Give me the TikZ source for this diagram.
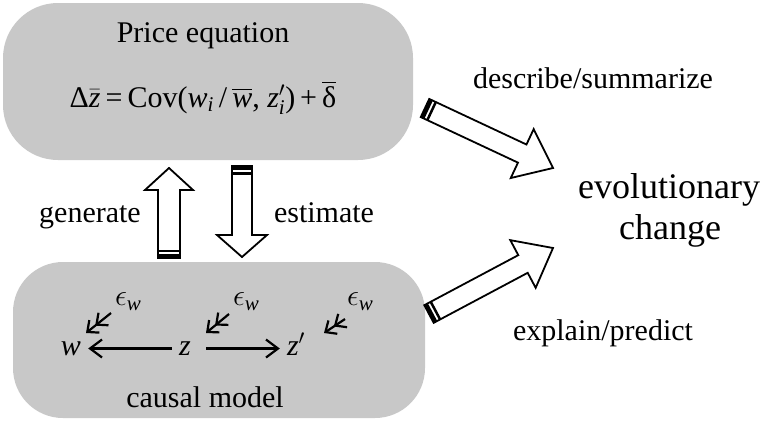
\RequirePackage{fix-cm}
\documentclass[tikz,border=0pt]{standalone}
\usepackage{amsmath}
\usepackage{fontspec}
\setmainfont{Liberation Serif}
\usetikzlibrary{arrows.meta,calc}
\definecolor{boxgray}{RGB}{200,200,200}
\newcommand\blockarrow[5]{%
  \path let \p1=($(#2)-(#1)$) in \pgfextra{\pgfmathsetmacro\tmpang{atan2(\y1,\x1)}\pgfmathsetmacro\tmplen{veclen(\x1,\y1)}\xdef\bAng{\tmpang}\xdef\bLen{\tmplen}};
  \begin{scope}[shift={(#1)},rotate=\bAng]
    \pgfmathsetmacro\bBase{\bLen-#5}
    \filldraw[fill=white,draw=black,line width=1.8pt,line join=miter]
      (0,-#3) -- (\bBase,-#3) -- (\bBase,-#4) -- (\bLen,0) -- (\bBase,#4) -- (\bBase,#3) -- (0,#3) -- cycle;
    \fill (0,-#3) rectangle (4,#3);
    \fill (6,-#3) rectangle (8.5,#3);
  \end{scope}}
\newcommand\epsw{$\epsilon$\raisebox{-5pt}{\fontsize{21}{24}\selectfont\itshape w}}
\begin{document}
\begin{tikzpicture}[x=1pt,y=-1pt,
  box/.style={fill=boxgray,draw=none,rounded corners=55pt,inner sep=0pt},
  lbl/.style={anchor=base,inner sep=0pt,font=\fontsize{30}{36}\selectfont},
  var/.style={anchor=base,inner sep=7pt,text height=13pt,text depth=0pt,font=\fontsize{30}{36}\selectfont\itshape},
  eps/.style={anchor=base,inner sep=0pt,font=\fontsize{30}{34}\selectfont},
  cause/.style={-{Straight Barb[length=12pt,width=18pt]},line width=2.2pt},
  err/.style={-{Straight Barb[length=9pt,width=16pt]Straight Barb[length=9pt,width=16pt]},line width=2.2pt}]
\useasboundingbox (0,0) rectangle (762,424);
% boxes
\node[box,minimum width=410pt,minimum height=157pt] (price) at (208,81.5) {};
\node[box,rounded corners=50pt,minimum width=412pt,minimum height=156pt] (causal) at (219,340) {};
% top texts
\node[lbl] (ptitle) at (203,42) {Price equation};
\node[lbl] (eq) at (203,107) {Δ$\bar{\text{\itshape z}}$\,=\,Cov(\textit{w}$_{\text{\itshape i}}$\,/\,$\overline{\text{\itshape w}}$, \textit{z}$'_{\text{\itshape i}}$)\,+\,$\overline{\text{δ}}$};
% bottom texts
\node[lbl] (cm) at (205,407) {causal model};
\node[var] (w) at (71,355) {w};
\node[var] (z) at (185,355) {z};
\node[var] (zp) at (296,355) {z$'$};
\node[eps] (ep1) at (128,305) {\epsw};
\node[eps] (ep2) at (246,305) {\epsw};
\node[eps] (ep3) at (360,305) {\epsw};
\draw[cause] (z.west) -- (w.east);
\draw[cause,shorten <=8pt] (z.east) -- (z.east -| zp.west);
\coordinate (e1s) at (111,313); \coordinate (e1t) at (86,333);
\coordinate (e2s) at (229,314); \coordinate (e2t) at (206,333);
\coordinate (e3s) at (345,319); \coordinate (e3t) at (324,333);
\draw[err] (e1s) -- (e1t);
\draw[err] (e2s) -- (e2t);
\draw[err] (e3s) -- (e3t);
% middle labels
\node[lbl] (gen) at (90,222) {generate};
\node[lbl] (est) at (324,222) {estimate};
% right texts
\node[lbl] (desc) at (593,88) {describe/summarize};
\node[lbl] (expl) at (603,340) {explain/predict};
\node[lbl,font=\fontsize{36}{41}\selectfont] (evo) at (669,198) {evolutionary};
\node[lbl,font=\fontsize{36}{41}\selectfont] (chg) at (670,239) {change};
% block arrows
\coordinate (upT) at (169,258); \coordinate (upH) at (169,168);
\coordinate (dnT) at (242,166); \coordinate (dnH) at (242,257);
\coordinate (dsT) at (425,108); \coordinate (dsH) at (553,168);
\coordinate (exT) at (429,314); \coordinate (exH) at (553,248);
\blockarrow{upT}{upH}{11}{24}{22}
\blockarrow{dnT}{dnH}{10}{25}{22}
\blockarrow{dsT}{dsH}{10}{27}{34}
\blockarrow{exT}{exH}{10}{27}{34}
\end{tikzpicture}
\end{document}
